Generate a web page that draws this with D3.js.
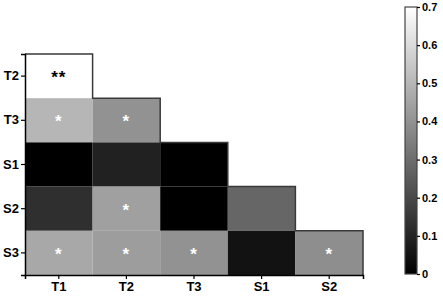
<!DOCTYPE html>
<html>
<head>
<meta charset="utf-8">
<script src="https://cdn.jsdelivr.net/npm/d3@7"></script>
<style>
  body { margin: 0; background: #fff; }
  svg { display: block; font-family: "Liberation Sans", Arial, sans-serif; }
</style>
</head>
<body>
<div id="chart"></div>
<script>
// Lower-triangle correlation-style heatmap
const cols = ["T1", "T2", "T3", "S1", "S2"];
const rows = ["T2", "T3", "S1", "S2", "S3"];

// one value list per row, left to right
const rowT2 = [0.70];
const rowT3 = [0.50, 0.40];
const rowS1 = [0.00, 0.09, 0.00];
const rowS2 = [0.13, 0.44, 0.00, 0.28];
const rowS3 = [0.46, 0.43, 0.40, 0.05, 0.39];

// significance marks, same shape
const sigT2 = ["**"];
const sigT3 = ["*", "*"];
const sigS1 = ["", "", ""];
const sigS2 = ["", "*", "", ""];
const sigS3 = ["*", "*", "*", "", "*"];

const colorTicks = [0, 0.1, 0.2, 0.3, 0.4, 0.5, 0.6, 0.7];

const rowValues = [rowT2, rowT3, rowS1, rowS2, rowS3];
const rowSigs = [sigT2, sigT3, sigS1, sigS2, sigS3];

const cells = [];
rowValues.forEach((vals, r) => {
  vals.forEach((v, c) => {
    cells.push({row: rows[r], col: cols[c], value: v, sig: rowSigs[r][c]});
  });
});

const width = 443, height = 297;
const margin = {top: 54, left: 25, right: 80, bottom: 22};

const svg = d3.select("#chart").append("svg")
  .attr("width", width)
  .attr("height", height);

const x = d3.scaleBand()
  .domain(cols)
  .range([margin.left, 363])
  .padding(0);

const y = d3.scaleBand()
  .domain(rows)
  .range([margin.top, 275])
  .padding(0);

const color = d3.scaleLinear()
  .domain([0, 0.7])
  .range(["#000000", "#ffffff"])
  .clamp(true);

// cells
svg.append("g")
  .selectAll("rect")
  .data(cells)
  .join("rect")
    .attr("x", d => x(d.col))
    .attr("y", d => y(d.row))
    .attr("width", x.bandwidth())
    .attr("height", y.bandwidth())
    .attr("fill", d => color(d.value));

// staircase outline around the triangle
let pathD = "";
rowValues.forEach((vals, r) => {
  const xr = x(cols[vals.length - 1]) + x.bandwidth();
  const yt = y(rows[r]);
  const yb = yt + y.bandwidth();
  if (r === 0) pathD += `M${x(cols[0])},${yt}`;
  pathD += `L${xr},${yt}L${xr},${yb}`;
});
svg.append("path")
  .attr("d", pathD)
  .attr("fill", "none")
  .attr("stroke", "#3a3a3a")
  .attr("stroke-width", 1.5);

// asterisks
svg.append("g")
  .selectAll("text")
  .data(cells.filter(d => d.sig))
  .join("text")
    .attr("x", d => x(d.col) + x.bandwidth() / 2)
    .attr("y", d => y(d.row) + y.bandwidth() / 2 + 7)
    .attr("text-anchor", "middle")
    .attr("font-size", 17)
    .attr("font-weight", "bold")
    .attr("letter-spacing", 1)
    .attr("fill", d => d.value > 0.6 ? "#000" : "#fff")
    .text(d => d.sig);

// axes
const xAxis = svg.append("g")
  .attr("transform", `translate(0,${275})`)
  .call(d3.axisBottom(x).tickSize(4).tickPadding(3));
const yAxis = svg.append("g")
  .attr("transform", `translate(${margin.left},0)`)
  .call(d3.axisLeft(y).tickSize(4).tickPadding(2));

[xAxis, yAxis].forEach(g => {
  g.select(".domain").attr("stroke", "#000").attr("stroke-width", 1.5);
  g.selectAll(".tick line").attr("stroke", "#000").attr("stroke-width", 1.2);
  g.selectAll(".tick text")
    .attr("font-family", "Liberation Sans, Arial, sans-serif")
    .attr("font-size", 13)
    .attr("font-weight", "bold")
    .attr("fill", "#000");
});

// color bar
const barX = 405, barW = 12;
const cy = d3.scaleLinear().domain([0, 0.7]).range([274, 7]);

const defs = svg.append("defs");
const grad = defs.append("linearGradient")
  .attr("id", "grayGrad")
  .attr("x1", 0).attr("y1", 1).attr("x2", 0).attr("y2", 0);
grad.append("stop").attr("offset", "0%").attr("stop-color", color(0));
grad.append("stop").attr("offset", "100%").attr("stop-color", color(0.7));

svg.append("rect")
  .attr("x", barX)
  .attr("y", cy(0.7))
  .attr("width", barW)
  .attr("height", cy(0) - cy(0.7))
  .attr("fill", "url(#grayGrad)")
  .attr("stroke", "#444")
  .attr("stroke-width", 1.2);

const cAxis = svg.append("g")
  .attr("transform", `translate(${barX + barW},0)`)
  .call(d3.axisRight(cy).tickValues(colorTicks).tickSize(3).tickPadding(2)
    .tickFormat(d => d === 0 ? "0" : d3.format(".1f")(d)));
cAxis.select(".domain").remove();
cAxis.selectAll(".tick line").attr("stroke", "#000").attr("stroke-width", 1.2);
cAxis.selectAll(".tick text")
  .attr("font-family", "Liberation Sans, Arial, sans-serif")
  .attr("font-size", 11)
  .attr("font-weight", "bold")
  .attr("fill", "#000");
</script>
</body>
</html>
